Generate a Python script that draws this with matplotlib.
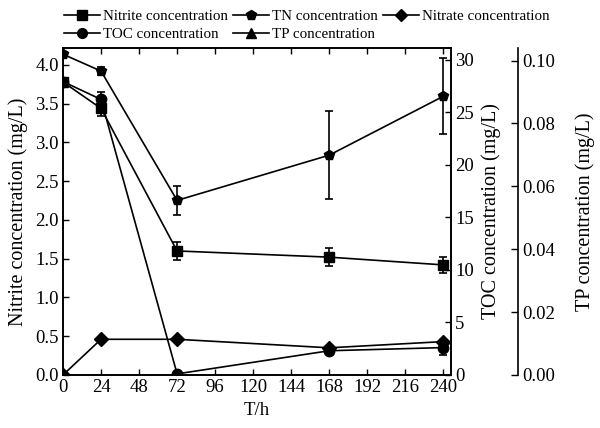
import numpy as np
import matplotlib
matplotlib.use('Agg')
import matplotlib.pyplot as plt
from matplotlib.lines import Line2D
from matplotlib.ticker import FormatStrFormatter

plt.rcParams['font.family'] = ['Liberation Serif', 'DejaVu Serif']
plt.rcParams['font.size'] = 13.5

# Tiempo de muestreo (h)
t = [0, 24, 72, 168, 240]

# Eje izquierdo (mg/L)
nitrite = [3.78, 3.44, 1.60, 1.52, 1.42]
nitrite_err = [0.0, 0.10, 0.12, 0.12, 0.10]
nitrate = [0.0, 0.46, 0.46, 0.35, 0.43]

# Eje derecho TOC (mg/L)
tn = [30.5, 28.9, 16.6, 20.9, 26.5]
tn_err = [0.0, 0.4, 1.4, 4.2, 3.6]
toc = [27.9, 26.2, 0.1, 2.3, 2.6]
toc_err = [0.0, 0.7, 0.0, 0.3, 0.7]

xticks = [0, 24, 48, 72, 96, 120, 144, 168, 192, 216, 240]

fig = plt.figure(figsize=(6, 4.28), dpi=100)
ax = fig.add_axes([0.105, 0.124, 0.647, 0.764])
ax2 = ax.twinx()
ax3 = ax.twinx()
ax3.spines['right'].set_position(('outward', 48))
for s in ['top', 'left', 'bottom']:
    ax3.spines[s].set_visible(False)

kw = dict(color='black', lw=1.2, ms=7.5, capsize=3, elinewidth=1.2, capthick=1.2)

ax.errorbar(t, nitrite, yerr=nitrite_err, marker='s', **kw)
ax.plot(t, nitrate, color='black', lw=1.2, marker='D', ms=7)
ax2.errorbar(t, tn, yerr=tn_err, marker='p', **kw)
ax2.errorbar(t, toc, yerr=toc_err, marker='o', **kw)

ax.set_xlim(0, 245)
ax.set_xticks(xticks)
ax.set_ylim(0, 4.22)
ax.set_yticks(np.arange(0, 4.01, 0.5))
ax.yaxis.set_major_formatter(FormatStrFormatter('%.1f'))
ax2.set_ylim(0, 31.1)
ax2.set_yticks(range(0, 31, 5))
ax3.set_ylim(0, 0.104)
ax3.set_yticks(np.arange(0, 0.101, 0.02))
ax3.yaxis.set_major_formatter(FormatStrFormatter('%.2f'))

ax.tick_params(direction='in', top=True, length=4, width=1, pad=3)
ax2.tick_params(direction='in', length=4, width=1, pad=3)
ax3.tick_params(direction='in', length=5, width=1, pad=3)
for a in (ax, ax2, ax3):
    for s in a.spines.values():
        s.set_linewidth(1.2)

ax.set_xlabel('T/h', fontsize=13.5, labelpad=4)
ax.set_ylabel('Nitrite concentration (mg/L)', fontsize=14.5, labelpad=5)
ax2.set_ylabel('TOC concentration (mg/L)', fontsize=14.5, labelpad=5)
ax3.set_ylabel('TP concentration (mg/L)', fontsize=14.5, labelpad=15)

def h(m, ms=7):
    return Line2D([], [], color='black', lw=1.2, marker=m, ms=ms)

handles = [h('s'), h('o'), h('p'), h('^'), h('D', 6.5)]
labels = ['Nitrite concentration', 'TOC concentration', 'TN concentration',
          'TP concentration', 'Nitrate concentration']
fig.legend(handles, labels, ncol=3, loc='upper left',
           bbox_to_anchor=(64 / 600, 1 - 10 / 428),
           frameon=False, fontsize=10.8, handlelength=2.4, handletextpad=0.2,
           columnspacing=0.35, labelspacing=0.3, borderaxespad=0, borderpad=0)

fig.savefig('out.png', dpi=100)
